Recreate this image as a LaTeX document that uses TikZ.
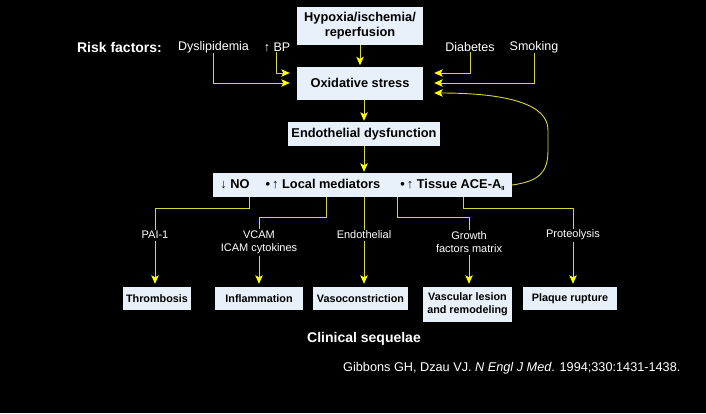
\documentclass[tikz,border=0pt]{standalone}
\usepackage{fontspec}
\setmainfont{Liberation Sans}
\usetikzlibrary{arrows.meta}
\definecolor{boxfill}{RGB}{232,241,250}
\definecolor{lncol}{RGB}{215,215,60}
\definecolor{tipcol}{RGB}{255,255,0}
\tikzset{
  box/.style={rectangle, fill=boxfill, inner sep=0pt, text=black, font=\bfseries\fontsize{12.8}{15}\selectfont, align=center},
  sbox/.style={rectangle, fill=boxfill, inner sep=0pt, text=black, font=\bfseries\fontsize{10.8}{13}\selectfont, align=center, minimum height=23pt},
  toplab/.style={text=white, inner sep=0pt, font=\fontsize{12.5}{15}\selectfont},
  lowlab/.style={text=white, inner sep=1pt, font=\fontsize{11}{13}\selectfont, align=center},
  ln/.style={draw=lncol, line width=0.9pt},
  arr/.style={ln, -{Stealth[length=8.5pt, width=7.5pt, inset=2pt, fill=tipcol, color=tipcol]}},
}
\newcommand{\upar}{{\mdseries\char"2191}}
\newcommand{\dnar}{{\mdseries\char"2193}}
\begin{document}
\begin{tikzpicture}[x=1pt, y=-1pt]
\fill[black] (0,0) rectangle (706,413);
\useasboundingbox (0,0) rectangle (706,413);

% main boxes
\node[box, minimum width=126pt, minimum height=38pt] (hyp) at (360,26) {Hypoxia/ischemia/\\reperfusion};
\node[box, minimum width=126pt, minimum height=33pt] (ox) at (360,83) {Oxidative stress};
\node[box, minimum width=152pt, minimum height=24pt] (endo) at (364,134) {Endothelial dysfunction};
\node[box, minimum width=299pt, minimum height=24pt] (med) at (362.5,185)
  {\dnar\ NO\hspace{16pt}\textbullet\,\upar\ Local mediators\hspace{20pt}\textbullet\,\upar\ Tissue ACE-A\raisebox{-2pt}{\fontsize{6}{6}\selectfont II}};

% risk factors
\node[text=white, inner sep=0pt, font=\bfseries\fontsize{14}{16}\selectfont] (risk) at (119.5,47) {Risk factors:};
\node[toplab] (dys) at (213.5,47) {Dyslipidemia};
\node[toplab] (bp) at (277,47) {\upar\ BP};
\node[toplab] (dia) at (470,47) {Diabetes};
\node[toplab] (smk) at (534,47) {Smoking};

\draw[arr, shorten >=1pt] (hyp.south) -- (ox.north);
\draw[arr, shorten >=1pt] (ox.south -| endo.north) -- (endo.north);
\draw[arr, shorten >=1pt] (endo.south) -- (endo.south |- med.north);

\draw[arr, shorten >=7pt] ([xshift=-1pt]bp.south) |- ([yshift=10pt]ox.west);
\draw[arr, shorten >=7pt] (dys.south) |- (ox.west);
\draw[arr, shorten >=11pt] (dia.south) |- ([yshift=10pt]ox.east);
\draw[arr, shorten >=11pt] (smk.south) |- (ox.east);

\coordinate (fb1) at (548,150);
\coordinate (fb2) at (548,130);
\coordinate (fbend) at ([xshift=11pt, yshift=-10pt]ox.east);
\draw[arr] (med.east) .. controls (540,181) and (548,172) .. (fb1) -- (fb2)
  .. controls (548,105) and (510,93) .. (fbend);

% lower labels
\node[lowlab] (pai) at (155,235) {PAI-1};
\node[lowlab] (vcam) at (259,242) {VCAM\\ICAM cytokines};
\node[lowlab] (endl) at (364,235) {Endothelial};
\node[lowlab] (grow) at (469,242) {Growth\\factors matrix};
\node[lowlab] (prot) at (573,235) {Proteolysis};

% bottom boxes
\node[sbox, minimum width=68pt] (thr) at (157,298.5) {Thrombosis};
\node[sbox, minimum width=88pt] (inf) at (259,298.5) {Inflammation};
\node[sbox, minimum width=95pt] (vaso) at (360.5,298.5) {Vasoconstriction};
\node[sbox, minimum width=89pt, minimum height=35pt] (vasc) at (467.5,304.5) {Vascular lesion\\and remodeling};
\node[sbox, minimum width=94pt] (plaq) at (570,298.5) {Plaque rupture};

% connectors from mediators box
\coordinate (m1) at (med.south -| 249,0);
\coordinate (m2) at (med.south -| 326,0);
\coordinate (m3) at (med.south -| endl.north);
\coordinate (m4) at (med.south -| 397,0);
\coordinate (m5) at (med.south -| 463,0);
\draw[ln] (m1) -- ++(0,11) -| (pai.north);
\draw[ln] (m2) -- ++(0,20) -| (vcam.north);
\draw[ln] (m3) -- (endl.north);
\draw[ln] (m4) -- ++(0,20) -| (grow.north);
\draw[ln] (m5) -- ++(0,11) -| (prot.north);

\draw[arr, shorten <=1pt, shorten >=3pt] (pai.south) -- (pai.south |- thr.north);
\draw[arr, shorten <=1pt, shorten >=3pt] (vcam.south) -- (vcam.south |- inf.north);
\draw[arr, shorten <=1pt, shorten >=3pt] (endl.south) -- (endl.south |- vaso.north);
\draw[arr, shorten <=1pt, shorten >=3pt] (grow.south) -- (grow.south |- vasc.north);
\draw[arr, shorten <=1pt, shorten >=3pt] (prot.south) -- (prot.south |- plaq.north);

\node[text=white, anchor=west, inner sep=0pt, font=\bfseries\fontsize{14}{16}\selectfont] (clin) at (307,339) {Clinical sequelae};
\node[text=white, anchor=west, inner sep=0pt, font=\fontsize{12.7}{15}\selectfont] (cite) at (343,368) {Gibbons GH, Dzau VJ. \textit{N Engl J Med}. 1994;330:1431-1438.};
\end{tikzpicture}
\end{document}
